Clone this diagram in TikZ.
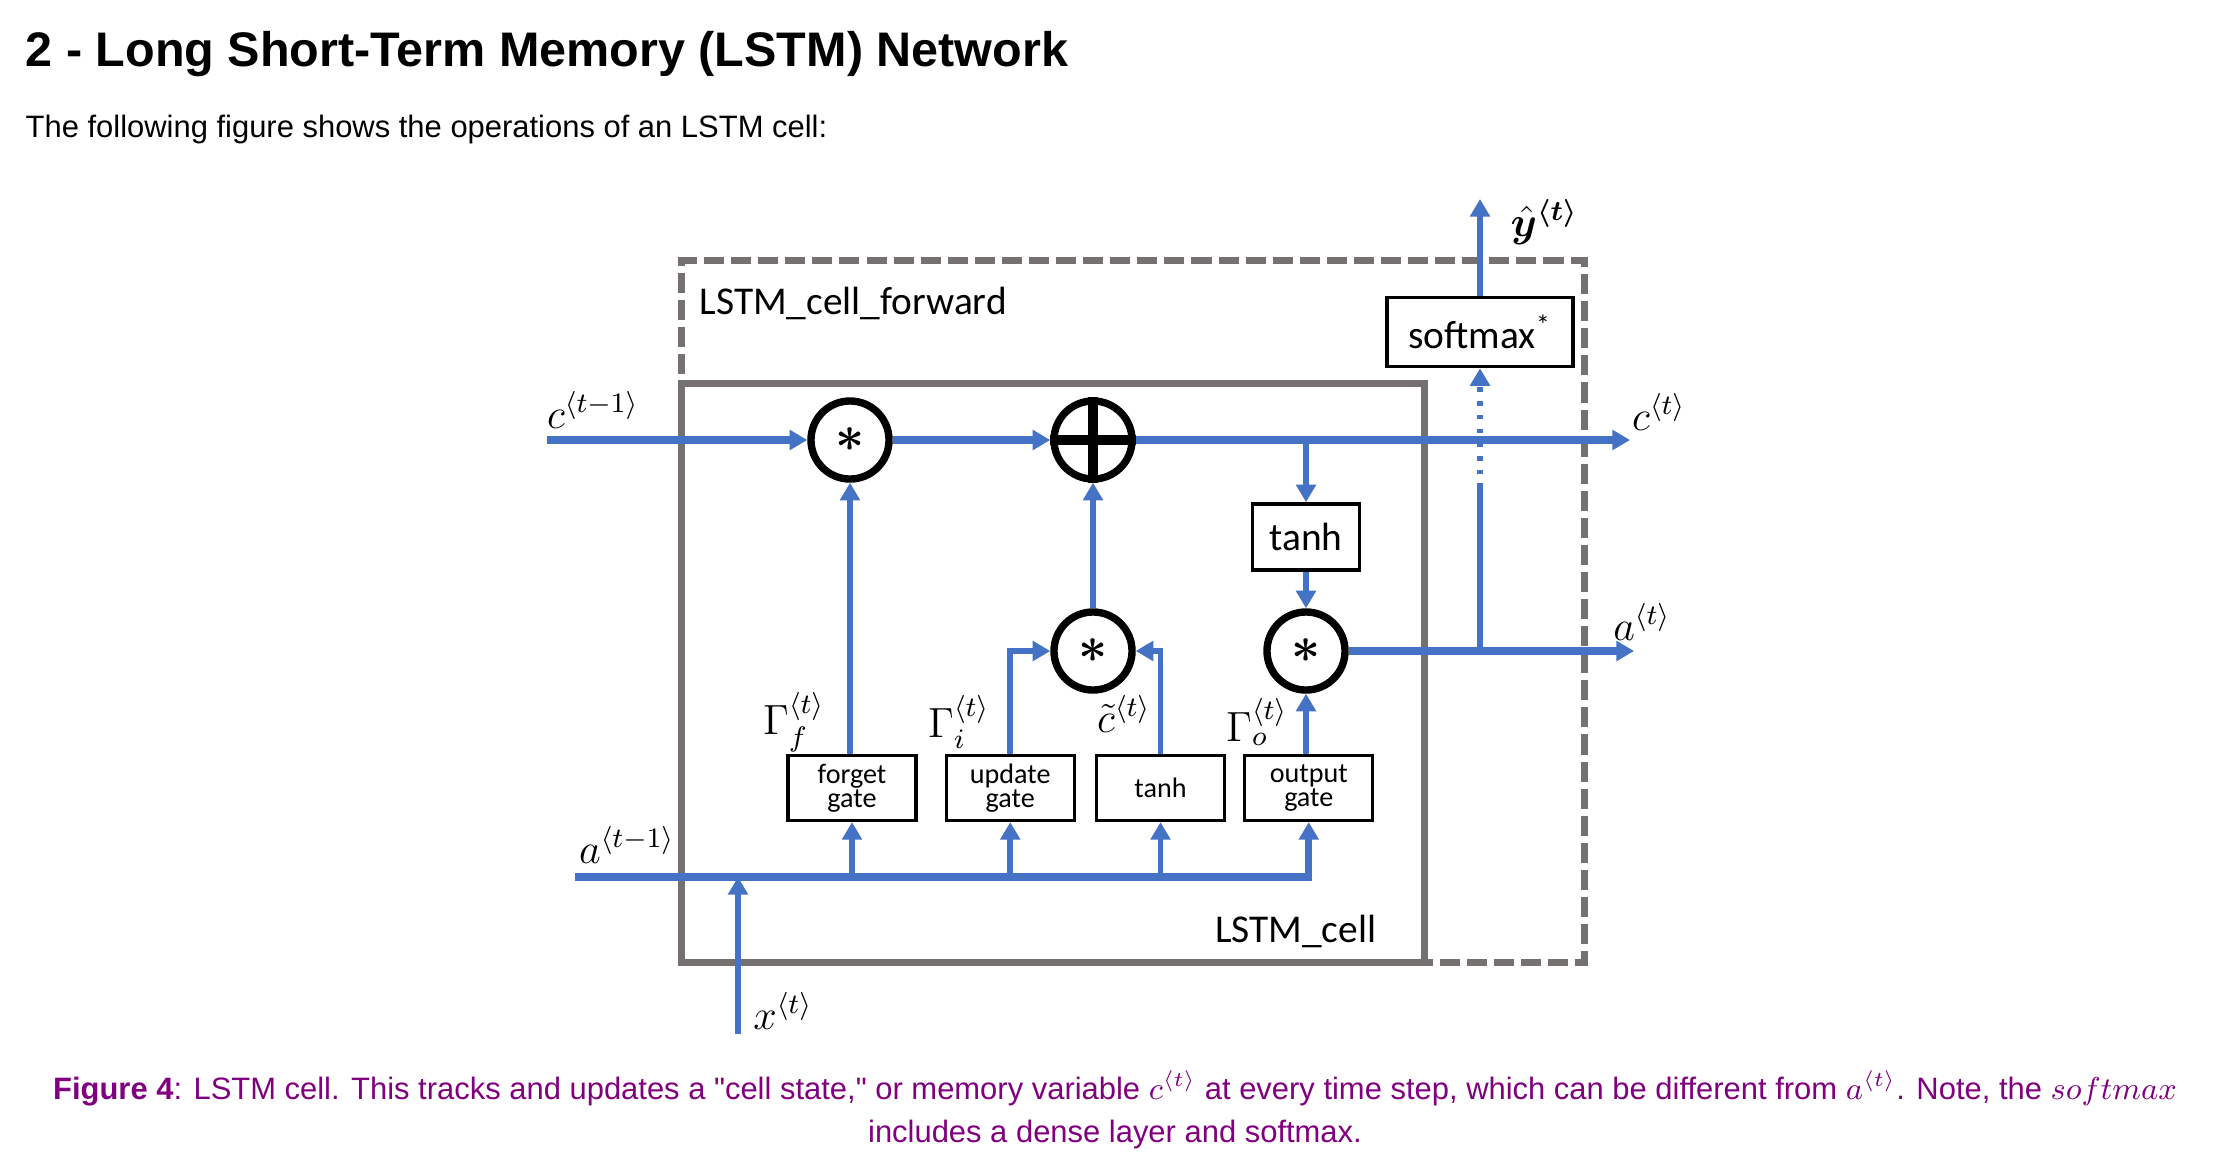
\documentclass[tikz,border=0pt]{standalone}
\usepackage{amsmath}
\usepackage{amssymb}
\usepackage{bm}
\usepackage{fontspec}
\setmainfont{Liberation Sans}
\newfontfamily\calibri{Carlito}
\usetikzlibrary{arrows.meta, positioning}
\definecolor{flowblue}{HTML}{4472C4}
\definecolor{boxgray}{HTML}{767171}
\definecolor{capurple}{HTML}{800080}
\tikzset{
x=0.01cm, y=-0.01cm, % one unit is one pixel of the page, y going down
>={Triangle[length=5pt, width=5.5pt]}, % filled office-like arrow heads
flow/.style={->, draw=flowblue, line width=1.6pt}, % blue connectors inside the cell
mainflow/.style={flow, line width=2.1pt}, % the c and a lines
op/.style={circle, draw=black, line width=2.1pt, minimum size=0.78cm, inner sep=0pt, fill=white, font=\fontsize{15}{15}\selectfont}, % pointwise operations
gatebox/.style={draw=black, line width=0.9pt, minimum width=1.28cm, minimum height=0.65cm, inner sep=1pt, align=center, font=\calibri\fontsize{8}{6.8}\selectfont}, % the four gates
actbox/.style={draw=black, line width=1pt, font=\calibri\fontsize{11.2}{12}\selectfont}, % tanh and softmax
lbl/.style={font=\fontsize{12}{14}\selectfont}, % math labels
plain/.style={inner sep=0pt}, % bare texts
}

\begin{document}
\begin{tikzpicture}
        \useasboundingbox (0,0) rectangle (2228,1154);
        \node[plain, anchor=west, font=\bfseries\fontsize{13.8}{16}\selectfont] (title) at (25,54) {2 - Long Short-Term Memory (LSTM) Network};
        \node[plain, anchor=west, font=\fontsize{8.8}{10}\selectfont] (intro) at (25,129) {The following figure shows the operations of an LSTM cell:};

        \node[draw=boxgray, line width=2pt, dash pattern=on 5.7pt off 2pt, minimum width=9.02cm, minimum height=7.01cm] (fwd) at (1133,611.5) {};
        \node[draw=boxgray, line width=2pt, minimum width=7.42cm, minimum height=5.78cm] (cell) at (1053,673) {};
        \node[plain, anchor=west, font=\calibri\fontsize{11.2}{12}\selectfont] (fwdname) at (699,303) {LSTM\_cell\_forward};
        \node[plain, anchor=east, font=\calibri\fontsize{11.2}{12}\selectfont] (cellname) at (1377,931) {LSTM\_cell};

        \node[op] (mf) at (850,440) {$\bm{\ast}$};
        \node[op] (add) at (1093,440) {};
        \node[op] (mi) at (1093,651) {$\bm{\ast}$};
        \node[op] (mo) at (1306,651) {$\bm{\ast}$};
        \draw[line width=2.6pt] (add.north) -- (add.south) (add.west) -- (add.east);

        \node[actbox, minimum width=1.07cm, minimum height=0.66cm] (th) at (1306,537) {tanh};
        \node[actbox, minimum width=1.86cm, minimum height=0.69cm] (sm) at (1480,332) {softmax\textsuperscript{*}};

        \node[gatebox] (fg) at (852,788) {forget\\gate};
        \node[gatebox, right=0.27cm of fg] (ug) {update\\gate};
        \node[gatebox, right=0.19cm of ug] (tg) {tanh};
        \node[gatebox, right=0.17cm of tg] (og) {output\\gate};

        \coordinate (cin) at (547,440);
        \coordinate (cout) at (1630,440);
        \coordinate (ain) at (575,877);
        \coordinate (aout) at (1634,651);
        \coordinate (xin) at (738,1034);
        \coordinate (yout) at (1480,199);
        \coordinate (dd) at (1480,488);

        \draw[mainflow] (cin) -- (mf);
        \draw[mainflow] (mf) -- (add);
        \draw[mainflow] (add) -- (cout);
        \draw[flow] (th |- add) -- (th);
        \draw[flow] (th) -- (mo);
        \draw[mainflow] (mo) -- (aout);
        \draw[flow, -] (sm |- mo) -- (dd);
        \draw[flow, dash pattern=on 1.3pt off 2.6pt] (dd) -- (sm.south);
        \draw[flow] (sm) -- (yout);

        \draw[mainflow] (ain) -| (og.south);
        \draw[flow] (fg.south |- ain) -- (fg.south);
        \draw[flow] (ug.south |- ain) -- (ug.south);
        \draw[flow] (tg.south |- ain) -- (tg.south);
        \draw[flow] (xin) -- (xin |- ain);
        \draw[flow] (fg.north -| mf) -- (mf);
        \draw[flow] (ug.north) |- (mi.west);
        \draw[flow] (tg.north) |- (mi.east);
        \draw[flow] (mi) -- (add);
        \draw[flow] (og.north -| mo) -- (mo);

        \node[lbl] (lcin) at (593,410) {$c^{\langle t-1 \rangle}$};
        \node[lbl] (lcout) at (1659,412) {$c^{\langle t \rangle}$};
        \node[lbl] (laout) at (1642,622) {$a^{\langle t \rangle}$};
        \node[lbl] (lain) at (627,845) {$a^{\langle t-1 \rangle}$};
        \node[lbl] (lxin) at (783,1011) {$x^{\langle t \rangle}$};
        \node[lbl, plain, anchor=west] (lyout) at (1510,222) {$\bm{\hat{y}^{\langle t \rangle}}$};
        \node[lbl] (lgf) at (794,722) {$\Gamma_f^{\langle t \rangle}$};
        \node[lbl] (lgi) at (959,722) {$\Gamma_i^{\langle t \rangle}$};
        \node[lbl] (lct) at (1124,714) {$\tilde{c}^{\langle t \rangle}$};
        \node[lbl] (lgo) at (1257,722) {$\Gamma_o^{\langle t \rangle}$};

        \node[align=center, text=capurple, font=\fontsize{8.8}{12.2}\selectfont] (cap) at (1115,1110) {\textbf{Figure 4}: LSTM cell. This tracks and updates a \textquotedbl cell state,\textquotedbl{} or memory variable $c^{\langle t \rangle}$ at every time step, which can be different from $a^{\langle t \rangle}$. Note, the $softmax$\\includes a dense layer and softmax.};
      \end{tikzpicture}
\end{document}
